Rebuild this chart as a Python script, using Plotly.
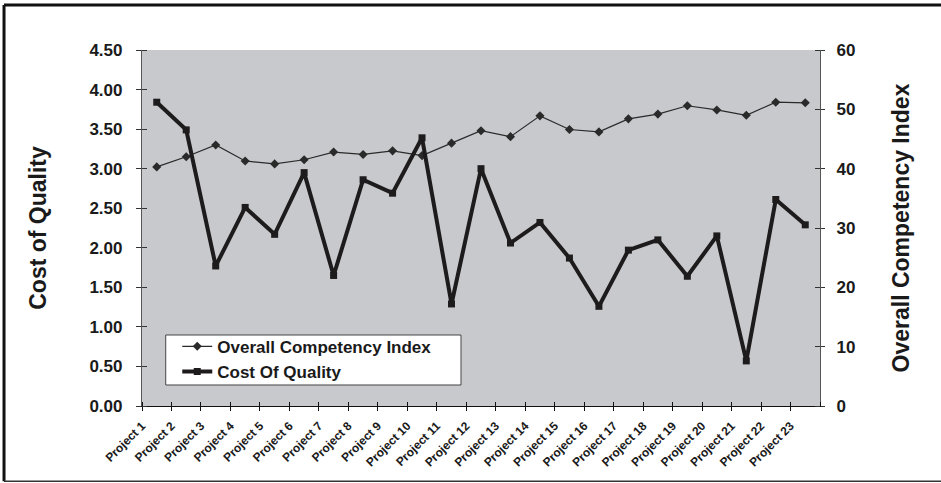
import plotly.graph_objects as go

categories = ["Project 1", "Project 2", "Project 3", "Project 4", "Project 5", "Project 6",
              "Project 7", "Project 8", "Project 9", "Project 10", "Project 11", "Project 12",
              "Project 13", "Project 14", "Project 15", "Project 16", "Project 17", "Project 18",
              "Project 19", "Project 20", "Project 21", "Project 22", "Project 23"]
competency_index = [40.3, 42.0, 44.0, 41.3, 40.8, 41.5, 42.8, 42.4, 43.0, 42.2, 44.3, 46.4,
                    45.4, 48.9, 46.6, 46.2, 48.4, 49.2, 50.6, 49.9, 49.0, 51.2, 51.1]
cost_of_quality = [3.84, 3.49, 1.77, 2.51, 2.17, 2.95, 1.65, 2.86, 2.69, 3.39, 1.29, 3.00,
                   2.06, 2.32, 1.87, 1.26, 1.97, 2.10, 1.64, 2.15, 0.57, 2.61, 2.29]
left_ticks = [0, 0.5, 1.0, 1.5, 2.0, 2.5, 3.0, 3.5, 4.0, 4.5]
right_ticks = [0, 10, 20, 30, 40, 50, 60]

xpos = list(range(1, len(categories) + 1))
boundary_vals = [v - 0.5 for v in xpos] + [len(categories) + 0.5]
boundary_text = categories + [""]

FONT = "Liberation Sans, Arial, sans-serif"

fig = go.Figure()
fig.add_trace(go.Scatter(
    x=xpos, y=competency_index, name="Overall Competency Index", yaxis="y",
    mode="lines+markers",
    line=dict(color="#2a2a2a", width=1.2),
    marker=dict(symbol="diamond", size=7, color="#2a2a2a"),
))
fig.add_trace(go.Scatter(
    x=xpos, y=cost_of_quality, name="Cost Of Quality", yaxis="y2",
    mode="lines+markers",
    line=dict(color="#1e1b1c", width=4),
    marker=dict(symbol="square", size=7, color="#1e1b1c"),
))

fig.update_layout(
    width=941, height=483,
    margin=dict(l=142, r=121, t=50, b=77),
    paper_bgcolor="white",
    plot_bgcolor="#c8c9cd",
    font=dict(family=FONT, color="#1a1a1a", size=17, weight="bold"),
    showlegend=True,
    legend=dict(x=0.052, y=0.217, xanchor="left", yanchor="top",
                bgcolor="rgba(0,0,0,0)", borderwidth=0,
                font=dict(size=17, family=FONT, weight="bold", color="#1a1a1a"),
                tracegroupgap=0),
    xaxis=dict(range=[0.5, len(categories) + 0.5], tickmode="array",
               tickvals=boundary_vals, ticktext=boundary_text, tickangle=-45,
               tickfont=dict(size=12, family=FONT, weight="bold"),
               ticklabelstandoff=3,
               showgrid=False, zeroline=False, showline=True, linecolor="#111", linewidth=1.2,
               ticks="outside", ticklen=4, tickcolor="#111", tickwidth=1.2,
               minor=dict(ticks="inside", tickmode="array", tickvals=boundary_vals,
                          ticklen=4, tickcolor="#111", tickwidth=1.2, showgrid=False)),
    yaxis=dict(range=[0, 60], side="right", tickmode="array", tickvals=right_ticks,
               showgrid=False, zeroline=False, showline=True, linecolor="#555", linewidth=1.2,
               ticks="outside", ticklen=4, tickcolor="#333", tickwidth=1.2,
               minor=dict(ticks="inside", tickmode="array", tickvals=right_ticks,
                          ticklen=5, tickcolor="#333", tickwidth=1.2, showgrid=False),
               ticklabelstandoff=8,
               title=dict(text="Overall Competency Index", standoff=38,
                          font=dict(size=23, family=FONT, weight="bold"))),
    yaxis2=dict(range=[0, 4.5], side="left", overlaying="y", tickmode="array",
                tickvals=left_ticks, tickformat=".2f",
                showgrid=False, zeroline=False, showline=True, linecolor="#555", linewidth=1.2,
                ticks="outside", ticklen=5, tickcolor="#333", tickwidth=1.2,
                minor=dict(ticks="inside", tickmode="array", tickvals=left_ticks,
                           ticklen=5, tickcolor="#333", tickwidth=1.2, showgrid=False),
                ticklabelstandoff=10,
                title=dict(text="Cost of Quality", standoff=36,
                           font=dict(size=23, family=FONT, weight="bold"))),
)

# legend box
fig.add_shape(type="rect", xref="paper", yref="paper", x0=0.035, x1=0.4705, y0=0.059, y1=0.1994,
              fillcolor="white", line=dict(color="#444", width=1), layer="above")
# outer frame
fig.add_shape(type="line", xref="paper", yref="paper", x0=-0.2035, x1=1.25, y0=1.1264, y1=1.1264,
              line=dict(color="#111", width=3))
fig.add_shape(type="line", xref="paper", yref="paper", x0=-0.2035, x1=-0.2035, y0=-0.2115, y1=1.1264,
              line=dict(color="#111", width=3))
fig.add_shape(type="line", xref="paper", yref="paper", x0=-0.2035, x1=1.25, y0=-0.2115, y1=-0.2115,
              line=dict(color="#333", width=1.5))

fig.write_html("out.html")
